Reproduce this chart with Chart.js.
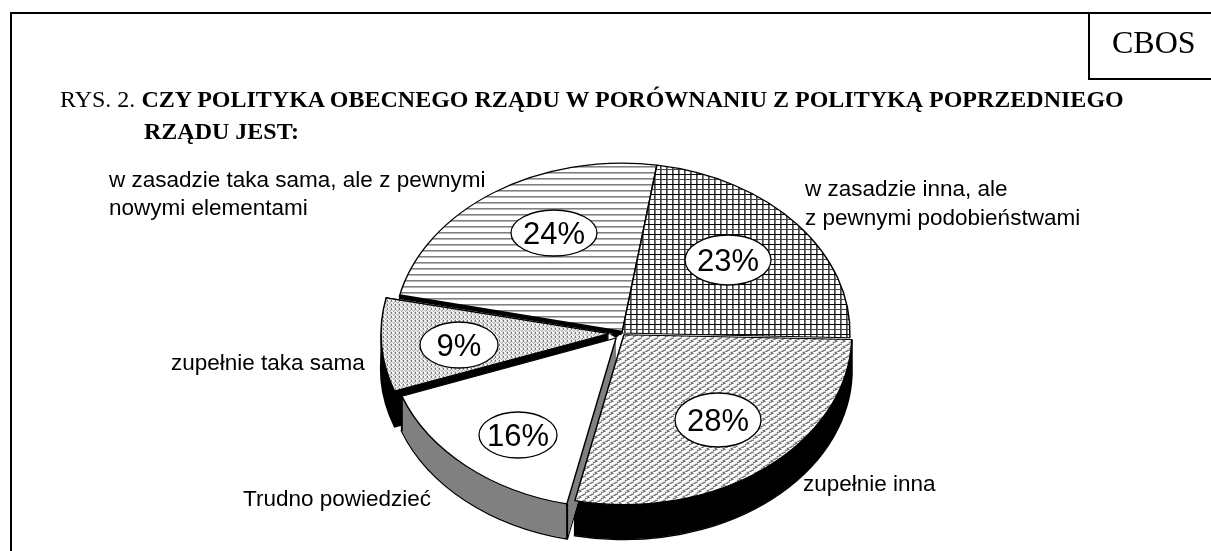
<!DOCTYPE html>
<html lang="pl">
<head>
<meta charset="utf-8">
<title>CBOS - Rys. 2</title>
<script src="https://cdn.jsdelivr.net/npm/chart.js@4"></script>
<style>
    html, body { margin: 0; padding: 0; background: #fff; overflow: hidden; }
    #page { position: relative; width: 1211px; height: 551px; overflow: hidden; font-family: "Liberation Serif", serif; color: #000; }
    #page canvas { position: absolute; left: 0; top: 0; }
    .rule { position: absolute; background: #000; }
    .head { position: absolute; white-space: nowrap; line-height: 1; }
</style>
</head>
<body>
<div id="page">
    <canvas id="pie" width="1211" height="551"></canvas>
    <div class="rule" style="left:10px;top:12px;width:1201px;height:2px"></div>
    <div class="rule" style="left:10px;top:12px;width:2px;height:539px"></div>
    <div class="rule" style="left:1088px;top:12px;width:2px;height:68px"></div>
    <div class="rule" style="left:1088px;top:78px;width:123px;height:2px"></div>
    <div class="head" style="left:1112px;top:26px;font-size:32px">CBOS</div>
    <div class="head" style="left:60px;top:87px;font-size:24px">RYS. 2. <b>CZY POLITYKA OBECNEGO RZĄDU W PORÓWNANIU Z POLITYKĄ POPRZEDNIEGO</b></div>
    <div class="head" style="left:144px;top:119px;font-size:24px"><b>RZĄDU JEST:</b></div>
</div>
<script>
// slices clockwise, starting from the one at the upper left
const categories = [
    'w zasadzie taka sama, ale z pewnymi nowymi elementami',
    'w zasadzie inna, ale z pewnymi podobieństwami',
    'zupełnie inna',
    'Trudno powiedzieć',
    'zupełnie taka sama'
];
const values = [24, 23, 28, 16, 9];
const percentLabels = ['24%', '23%', '28%', '16%', '9%'];

const startRotation = 282.4;
const explode = [0, 0, 12, 36, 52];
const wallColors = [null, null, '#000', '#808080', '#000'];
const wallOrder = [4, 2, 3];

const squash = 0.745;
const pieRadius = 228;
const wallDepth = 35;
const centerX = 622;
const centerY = 333;

const percentBoxes = [
    { x: 554, y: 233, rx: 43, ry: 23 },
    { x: 728, y: 260, rx: 43, ry: 25 },
    { x: 718, y: 420, rx: 43, ry: 27 },
    { x: 518, y: 435, rx: 39, ry: 23 },
    { x: 459, y: 345, rx: 39, ry: 23 }
];
const outerLabels = [
    { text: 'w zasadzie taka sama, ale z pewnymi', x: 109, y: 187 },
    { text: 'nowymi elementami', x: 109, y: 215 },
    { text: 'w zasadzie inna, ale', x: 805, y: 196 },
    { text: 'z pewnymi podobieństwami', x: 805, y: 225 },
    { text: 'zupełnie taka sama', x: 171, y: 370 },
    { text: 'Trudno powiedzieć', x: 243, y: 506 },
    { text: 'zupełnie inna', x: 803, y: 491 }
];

const patternColors = { '.': '#fff', l: '#b4b4b4', g: '#808080', d: '#444', k: '#000' };

function makePattern(rows) {
    const tile = document.createElement('canvas');
    tile.width = rows[0].length;
    tile.height = rows.length;
    const tileCtx = tile.getContext('2d');
    rows.forEach(function (row, y) {
        row.split('').forEach(function (ch, x) {
            tileCtx.fillStyle = patternColors[ch];
            tileCtx.fillRect(x, y, 1, 1);
        });
    });
    const pattern = tileCtx.createPattern(tile, 'repeat');
    // undo the squash so the tile stays on whole pixels
    pattern.setTransform(new DOMMatrix().translate(0, centerY).scale(1, 1 / squash).translate(0, -centerY));
    return pattern;
}

const fills = [
    makePattern(['......', '......', '......', '......', 'gggggg', 'llllll']),
    makePattern([
        'dg....', 'dg....', 'dg....', 'dg....', 'kkkkkk',
        'dg....', 'dg....', 'dg....', 'dg....', 'dddddd'
    ]),
    makePattern([
        '.....gdg',
        '...gdg..',
        'lgg.....',
        '.gdg....',
        'gg.....d',
        '.......l'
    ]),
    '#fff',
    makePattern(['d...', '.l.g', '..g.', 'g..l'])
];

function squashIn(ctx) {
    ctx.translate(0, centerY);
    ctx.scale(1, squash);
    ctx.translate(0, -centerY);
}

function tipOf(arc, index) {
    const mid = (arc.startAngle + arc.endAngle) / 2;
    const shift = explode[index] / 4;
    return { x: arc.x + Math.cos(mid) * shift, y: arc.y + Math.sin(mid) * shift };
}

function slicePath(ctx, arc, index, drop) {
    const tip = tipOf(arc, index);
    ctx.beginPath();
    ctx.moveTo(tip.x, tip.y + drop);
    ctx.arc(tip.x, tip.y + drop, pieRadius, arc.startAngle, arc.endAngle);
    ctx.closePath();
}

function drawWall(ctx, arc, index) {
    const depth = wallDepth / squash;
    const tip = tipOf(arc, index);
    ctx.strokeStyle = '#000';
    ctx.lineWidth = 2;
    slicePath(ctx, arc, index, depth);
    ctx.stroke();
    ctx.fillStyle = wallColors[index];
    for (let drop = 0; drop < depth; drop += 0.5) {
        slicePath(ctx, arc, index, drop);
        ctx.fill();
    }
    [arc.startAngle, arc.endAngle].forEach(function (angle) {
        const x = tip.x + Math.cos(angle) * pieRadius;
        const y = tip.y + Math.sin(angle) * pieRadius;
        ctx.beginPath();
        ctx.moveTo(x, y);
        ctx.lineTo(x, y + depth);
        ctx.stroke();
    });
}

const tiltedPie = {
    id: 'tiltedPie',
    beforeDatasetsDraw: function (chart) {
        const ctx = chart.ctx;
        const arcs = chart.getDatasetMeta(0).data;
        arcs.forEach(function (arc, i) {
            // ArcElement grows narrow exploded slices, keep them all the same size
            const fix = 1 - Math.sin(Math.min(Math.PI, arc.circumference));
            arc.outerRadius = pieRadius - explode[i] / 4 * fix;
        });
        ctx.save();
        squashIn(ctx);
        wallOrder.forEach(function (i) {
            drawWall(ctx, arcs[i], i);
        });
    },
    afterDatasetsDraw: function (chart) {
        const ctx = chart.ctx;
        const arcs = chart.getDatasetMeta(0).data;
        const small = tipOf(arcs[4], 4);
        const blank = tipOf(arcs[3], 3);

        // black wedge where the two pulled out slices leave the centre
        ctx.fillStyle = '#000';
        ctx.beginPath();
        ctx.moveTo(small.x, small.y);
        ctx.lineTo(blank.x, blank.y);
        ctx.lineTo(arcs[0].x, arcs[0].y);
        ctx.closePath();
        ctx.fill();

        // heavy edge under the 24% slice
        ctx.strokeStyle = '#000';
        ctx.lineWidth = 6.5;
        ctx.beginPath();
        ctx.moveTo(arcs[0].x, arcs[0].y);
        ctx.lineTo(arcs[0].x + Math.cos(arcs[0].startAngle) * pieRadius, arcs[0].y + Math.sin(arcs[0].startAngle) * pieRadius);
        ctx.stroke();
        ctx.restore();

        ctx.textBaseline = 'alphabetic';
        percentLabels.forEach(function (label, i) {
            const box = percentBoxes[i];
            ctx.beginPath();
            ctx.ellipse(box.x, box.y, box.rx, box.ry, 0, 0, Math.PI * 2);
            ctx.fillStyle = '#fff';
            ctx.fill();
            ctx.strokeStyle = '#000';
            ctx.lineWidth = 1.3;
            ctx.stroke();
            ctx.fillStyle = '#000';
            ctx.textAlign = 'center';
            ctx.font = '31px "Liberation Sans", Arial, sans-serif';
            ctx.fillText(label, box.x, box.y + 11);
        });

        ctx.textAlign = 'left';
        ctx.font = '22.5px "Liberation Sans", Arial, sans-serif';
        outerLabels.forEach(function (item) {
            ctx.fillText(item.text, item.x, item.y);
        });
    }
};

new Chart(document.getElementById('pie'), {
    type: 'pie',
    data: {
        labels: categories,
        datasets: [{
            data: values,
            backgroundColor: fills,
            borderColor: '#000',
            borderWidth: 1.5,
            offset: explode,
            clip: false
        }]
    },
    options: {
        responsive: false,
        animation: false,
        events: [],
        rotation: startRotation,
        radius: pieRadius,
        layout: { padding: { left: centerX * 2 - 1211, top: centerY * 2 - 551 } },
        plugins: {
            legend: { display: false },
            tooltip: { enabled: false }
        }
    },
    plugins: [tiltedPie]
});
</script>
</body>
</html>
